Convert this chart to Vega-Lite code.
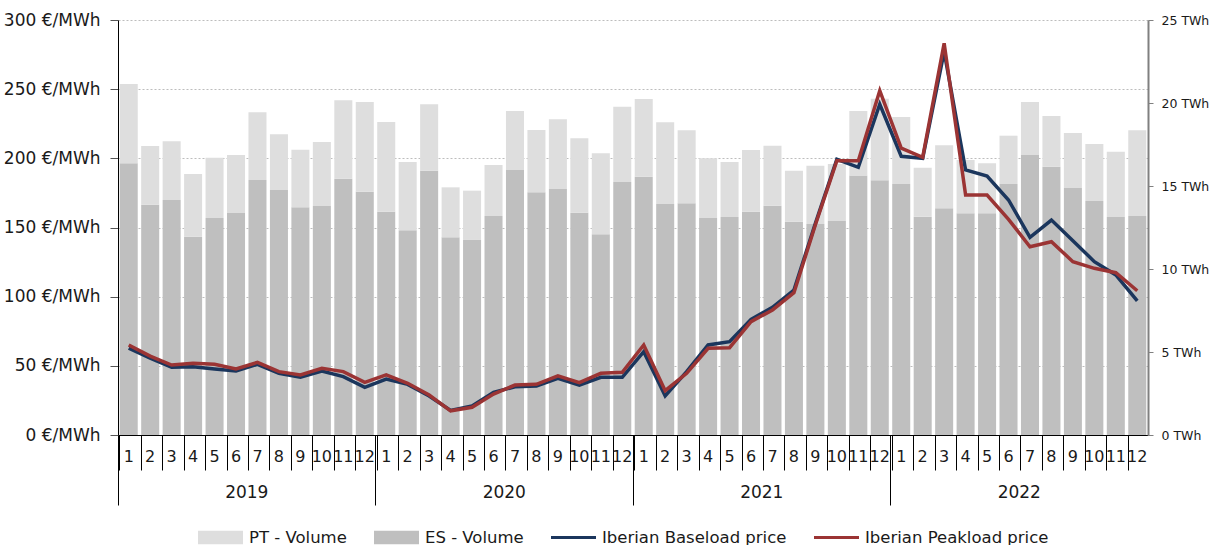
{
  "$schema": "https://vega.github.io/schema/vega-lite/v6.json",
  "width": 1030,
  "height": 415,
  "padding": {"left": 3, "top": 11, "right": 5, "bottom": 5},
  "config": {
    "view": {"stroke": null},
    "font": "DejaVu Sans"
  },
  "data": {
    "values": [
      {"t":"2019-01","s":"ES - Volume","v":16.37},{"t":"2019-01","s":"PT - Volume","v":4.77},{"t":"2019-01","s":"Iberian Baseload price","v":62.7},{"t":"2019-01","s":"Iberian Peakload price","v":65.1},
      {"t":"2019-02","s":"ES - Volume","v":13.87},{"t":"2019-02","s":"PT - Volume","v":3.54},{"t":"2019-02","s":"Iberian Baseload price","v":55.5},{"t":"2019-02","s":"Iberian Peakload price","v":57.0},
      {"t":"2019-03","s":"ES - Volume","v":14.16},{"t":"2019-03","s":"PT - Volume","v":3.53},{"t":"2019-03","s":"Iberian Baseload price","v":48.9},{"t":"2019-03","s":"Iberian Peakload price","v":50.6},
      {"t":"2019-04","s":"ES - Volume","v":11.95},{"t":"2019-04","s":"PT - Volume","v":3.77},{"t":"2019-04","s":"Iberian Baseload price","v":49.4},{"t":"2019-04","s":"Iberian Peakload price","v":51.8},
      {"t":"2019-05","s":"ES - Volume","v":13.07},{"t":"2019-05","s":"PT - Volume","v":3.63},{"t":"2019-05","s":"Iberian Baseload price","v":47.7},{"t":"2019-05","s":"Iberian Peakload price","v":51.1},
      {"t":"2019-06","s":"ES - Volume","v":13.37},{"t":"2019-06","s":"PT - Volume","v":3.50},{"t":"2019-06","s":"Iberian Baseload price","v":46.3},{"t":"2019-06","s":"Iberian Peakload price","v":47.7},
      {"t":"2019-07","s":"ES - Volume","v":15.36},{"t":"2019-07","s":"PT - Volume","v":4.08},{"t":"2019-07","s":"Iberian Baseload price","v":51.1},{"t":"2019-07","s":"Iberian Peakload price","v":52.5},
      {"t":"2019-08","s":"ES - Volume","v":14.76},{"t":"2019-08","s":"PT - Volume","v":3.35},{"t":"2019-08","s":"Iberian Baseload price","v":44.6},{"t":"2019-08","s":"Iberian Peakload price","v":45.8},
      {"t":"2019-09","s":"ES - Volume","v":13.72},{"t":"2019-09","s":"PT - Volume","v":3.47},{"t":"2019-09","s":"Iberian Baseload price","v":41.7},{"t":"2019-09","s":"Iberian Peakload price","v":43.4},
      {"t":"2019-10","s":"ES - Volume","v":13.80},{"t":"2019-10","s":"PT - Volume","v":3.85},{"t":"2019-10","s":"Iberian Baseload price","v":46.3},{"t":"2019-10","s":"Iberian Peakload price","v":48.2},
      {"t":"2019-11","s":"ES - Volume","v":15.44},{"t":"2019-11","s":"PT - Volume","v":4.72},{"t":"2019-11","s":"Iberian Baseload price","v":42.2},{"t":"2019-11","s":"Iberian Peakload price","v":45.8},
      {"t":"2019-12","s":"ES - Volume","v":14.66},{"t":"2019-12","s":"PT - Volume","v":5.40},{"t":"2019-12","s":"Iberian Baseload price","v":34.5},{"t":"2019-12","s":"Iberian Peakload price","v":38.1},
      {"t":"2020-01","s":"ES - Volume","v":13.45},{"t":"2020-01","s":"PT - Volume","v":5.41},{"t":"2020-01","s":"Iberian Baseload price","v":40.4},{"t":"2020-01","s":"Iberian Peakload price","v":43.4},
      {"t":"2020-02","s":"ES - Volume","v":12.33},{"t":"2020-02","s":"PT - Volume","v":4.12},{"t":"2020-02","s":"Iberian Baseload price","v":36.6},{"t":"2020-02","s":"Iberian Peakload price","v":37.4},
      {"t":"2020-03","s":"ES - Volume","v":15.92},{"t":"2020-03","s":"PT - Volume","v":4.00},{"t":"2020-03","s":"Iberian Baseload price","v":28.2},{"t":"2020-03","s":"Iberian Peakload price","v":28.9},
      {"t":"2020-04","s":"ES - Volume","v":11.91},{"t":"2020-04","s":"PT - Volume","v":3.01},{"t":"2020-04","s":"Iberian Baseload price","v":17.8},{"t":"2020-04","s":"Iberian Peakload price","v":17.5},
      {"t":"2020-05","s":"ES - Volume","v":11.75},{"t":"2020-05","s":"PT - Volume","v":2.97},{"t":"2020-05","s":"Iberian Baseload price","v":21.0},{"t":"2020-05","s":"Iberian Peakload price","v":20.0},
      {"t":"2020-06","s":"ES - Volume","v":13.19},{"t":"2020-06","s":"PT - Volume","v":3.08},{"t":"2020-06","s":"Iberian Baseload price","v":30.8},{"t":"2020-06","s":"Iberian Peakload price","v":29.6},
      {"t":"2020-07","s":"ES - Volume","v":15.96},{"t":"2020-07","s":"PT - Volume","v":3.56},{"t":"2020-07","s":"Iberian Baseload price","v":34.9},{"t":"2020-07","s":"Iberian Peakload price","v":36.1},
      {"t":"2020-08","s":"ES - Volume","v":14.62},{"t":"2020-08","s":"PT - Volume","v":3.75},{"t":"2020-08","s":"Iberian Baseload price","v":35.4},{"t":"2020-08","s":"Iberian Peakload price","v":36.6},
      {"t":"2020-09","s":"ES - Volume","v":14.82},{"t":"2020-09","s":"PT - Volume","v":4.20},{"t":"2020-09","s":"Iberian Baseload price","v":41.0},{"t":"2020-09","s":"Iberian Peakload price","v":42.7},
      {"t":"2020-10","s":"ES - Volume","v":13.39},{"t":"2020-10","s":"PT - Volume","v":4.48},{"t":"2020-10","s":"Iberian Baseload price","v":36.1},{"t":"2020-10","s":"Iberian Peakload price","v":37.8},
      {"t":"2020-11","s":"ES - Volume","v":12.09},{"t":"2020-11","s":"PT - Volume","v":4.88},{"t":"2020-11","s":"Iberian Baseload price","v":41.7},{"t":"2020-11","s":"Iberian Peakload price","v":44.6},
      {"t":"2020-12","s":"ES - Volume","v":15.24},{"t":"2020-12","s":"PT - Volume","v":4.54},{"t":"2020-12","s":"Iberian Baseload price","v":41.7},{"t":"2020-12","s":"Iberian Peakload price","v":45.3},
      {"t":"2021-01","s":"ES - Volume","v":15.56},{"t":"2021-01","s":"PT - Volume","v":4.68},{"t":"2021-01","s":"Iberian Baseload price","v":60.2},{"t":"2021-01","s":"Iberian Peakload price","v":65.1},
      {"t":"2021-02","s":"ES - Volume","v":13.92},{"t":"2021-02","s":"PT - Volume","v":4.92},{"t":"2021-02","s":"Iberian Baseload price","v":28.2},{"t":"2021-02","s":"Iberian Peakload price","v":32.0},
      {"t":"2021-03","s":"ES - Volume","v":13.96},{"t":"2021-03","s":"PT - Volume","v":4.40},{"t":"2021-03","s":"Iberian Baseload price","v":45.8},{"t":"2021-03","s":"Iberian Peakload price","v":44.6},
      {"t":"2021-04","s":"ES - Volume","v":13.07},{"t":"2021-04","s":"PT - Volume","v":3.60},{"t":"2021-04","s":"Iberian Baseload price","v":65.1},{"t":"2021-04","s":"Iberian Peakload price","v":62.7},
      {"t":"2021-05","s":"ES - Volume","v":13.13},{"t":"2021-05","s":"PT - Volume","v":3.32},{"t":"2021-05","s":"Iberian Baseload price","v":67.5},{"t":"2021-05","s":"Iberian Peakload price","v":63.1},
      {"t":"2021-06","s":"ES - Volume","v":13.45},{"t":"2021-06","s":"PT - Volume","v":3.72},{"t":"2021-06","s":"Iberian Baseload price","v":83.6},{"t":"2021-06","s":"Iberian Peakload price","v":81.9},
      {"t":"2021-07","s":"ES - Volume","v":13.81},{"t":"2021-07","s":"PT - Volume","v":3.62},{"t":"2021-07","s":"Iberian Baseload price","v":92.3},{"t":"2021-07","s":"Iberian Peakload price","v":90.4},
      {"t":"2021-08","s":"ES - Volume","v":12.85},{"t":"2021-08","s":"PT - Volume","v":3.07},{"t":"2021-08","s":"Iberian Baseload price","v":104.8},{"t":"2021-08","s":"Iberian Peakload price","v":102.9},
      {"t":"2021-09","s":"ES - Volume","v":12.71},{"t":"2021-09","s":"PT - Volume","v":3.51},{"t":"2021-09","s":"Iberian Baseload price","v":153.0},{"t":"2021-09","s":"Iberian Peakload price","v":152.0},
      {"t":"2021-10","s":"ES - Volume","v":12.89},{"t":"2021-10","s":"PT - Volume","v":3.44},{"t":"2021-10","s":"Iberian Baseload price","v":199.3},{"t":"2021-10","s":"Iberian Peakload price","v":198.3},
      {"t":"2021-11","s":"ES - Volume","v":15.64},{"t":"2021-11","s":"PT - Volume","v":3.88},{"t":"2021-11","s":"Iberian Baseload price","v":193.5},{"t":"2021-11","s":"Iberian Peakload price","v":198.3},
      {"t":"2021-12","s":"ES - Volume","v":15.34},{"t":"2021-12","s":"PT - Volume","v":4.92},{"t":"2021-12","s":"Iberian Baseload price","v":239.1},{"t":"2021-12","s":"Iberian Peakload price","v":248.9},
      {"t":"2022-01","s":"ES - Volume","v":15.12},{"t":"2022-01","s":"PT - Volume","v":4.04},{"t":"2022-01","s":"Iberian Baseload price","v":201.5},{"t":"2022-01","s":"Iberian Peakload price","v":207.3},
      {"t":"2022-02","s":"ES - Volume","v":13.15},{"t":"2022-02","s":"PT - Volume","v":2.95},{"t":"2022-02","s":"Iberian Baseload price","v":200.0},{"t":"2022-02","s":"Iberian Peakload price","v":200.7},
      {"t":"2022-03","s":"ES - Volume","v":13.66},{"t":"2022-03","s":"PT - Volume","v":3.79},{"t":"2022-03","s":"Iberian Baseload price","v":277.1},{"t":"2022-03","s":"Iberian Peakload price","v":283.2},
      {"t":"2022-04","s":"ES - Volume","v":13.36},{"t":"2022-04","s":"PT - Volume","v":3.21},{"t":"2022-04","s":"Iberian Baseload price","v":191.6},{"t":"2022-04","s":"Iberian Peakload price","v":173.5},
      {"t":"2022-05","s":"ES - Volume","v":13.36},{"t":"2022-05","s":"PT - Volume","v":3.01},{"t":"2022-05","s":"Iberian Baseload price","v":187.2},{"t":"2022-05","s":"Iberian Peakload price","v":173.5},
      {"t":"2022-06","s":"ES - Volume","v":15.12},{"t":"2022-06","s":"PT - Volume","v":2.91},{"t":"2022-06","s":"Iberian Baseload price","v":169.9},{"t":"2022-06","s":"Iberian Peakload price","v":155.9},
      {"t":"2022-07","s":"ES - Volume","v":16.87},{"t":"2022-07","s":"PT - Volume","v":3.19},{"t":"2022-07","s":"Iberian Baseload price","v":142.9},{"t":"2022-07","s":"Iberian Peakload price","v":136.1},
      {"t":"2022-08","s":"ES - Volume","v":16.16},{"t":"2022-08","s":"PT - Volume","v":3.06},{"t":"2022-08","s":"Iberian Baseload price","v":155.4},{"t":"2022-08","s":"Iberian Peakload price","v":139.7},
      {"t":"2022-09","s":"ES - Volume","v":14.88},{"t":"2022-09","s":"PT - Volume","v":3.31},{"t":"2022-09","s":"Iberian Baseload price","v":140.5},{"t":"2022-09","s":"Iberian Peakload price","v":125.3},
      {"t":"2022-10","s":"ES - Volume","v":14.10},{"t":"2022-10","s":"PT - Volume","v":3.43},{"t":"2022-10","s":"Iberian Baseload price","v":125.3},{"t":"2022-10","s":"Iberian Peakload price","v":120.5},
      {"t":"2022-11","s":"ES - Volume","v":13.13},{"t":"2022-11","s":"PT - Volume","v":3.94},{"t":"2022-11","s":"Iberian Baseload price","v":115.7},{"t":"2022-11","s":"Iberian Peakload price","v":117.3},
      {"t":"2022-12","s":"ES - Volume","v":13.19},{"t":"2022-12","s":"PT - Volume","v":5.17},{"t":"2022-12","s":"Iberian Baseload price","v":96.9},{"t":"2022-12","s":"Iberian Peakload price","v":104.3}
    ]
  },
  "layer": [
    {
      "encoding": {
        "x": {
          "field": "t", "type": "ordinal",
          "scale": {"paddingInner": 0.16, "paddingOuter": 0.08},
          "axis": {
            "orient": "bottom", "title": null, "tickSize": 35, "bandPosition": 0,
            "tickColor": "#000", "domainColor": "#000", "labelPadding": -22,
            "labelFontSize": 16, "labelColor": "#1a1a1a", "labelAngle": 0, "labelOverlap": false,
            "labelExpr": "toNumber(slice(datum.value, 5))"
          }
        },
        "color": {
          "field": "s", "type": "nominal",
          "scale": {"domain": ["PT - Volume", "ES - Volume", "Iberian Baseload price", "Iberian Peakload price"], "range": ["#dedede", "#bfbfbf", "#1b365d", "#9b3434"]},
          "legend": {
            "title": null, "orient": "none", "legendX": 80, "legendY": 495,
            "direction": "horizontal", "labelFontSize": 16.5, "labelColor": "#1a1a1a",
            "labelLimit": 400, "symbolSize": 2025, "labelOffset": 6, "columnPadding": 27,
            "encode": {
              "symbols": {
                "update": {
                  "shape": {"signal": "datum.value == 'PT - Volume' || datum.value == 'ES - Volume' ? 'M-1,-0.3H1V0.3H-1Z' : 'M-1,-0.07H1V0.07H-1Z'"},
                  "fill": {"scale": "color", "field": "value"},
                  "strokeWidth": {"value": 0},
                  "opacity": {"value": 1}
                }
              }
            }
          }
        }
      },
      "layer": [
        {
          "transform": [{"filter": {"field": "s", "oneOf": ["ES - Volume", "PT - Volume"]}}],
          "mark": {"type": "bar"},
          "encoding": {
            "y": {
              "field": "v", "type": "quantitative", "stack": "zero",
              "scale": {"domain": [0, 25]},
              "axis": {
                "orient": "right", "title": null, "values": [0, 5, 10, 15, 20, 25],
                "labelExpr": "datum.value + ' TWh'", "tickSize": 5, "labelPadding": 8,
                "labelFontSize": 12.5, "labelColor": "#1a1a1a", "domainColor": "#808080", "domainWidth": 2,
                "tickColor": "#808080", "grid": false
              }
            },
            "order": {"field": "s", "sort": "ascending"}
          }
        },
        {
          "transform": [{"filter": {"field": "s", "oneOf": ["Iberian Baseload price", "Iberian Peakload price"]}}],
          "mark": {"type": "line", "strokeWidth": 3.5},
          "encoding": {
            "y": {
              "field": "v", "type": "quantitative",
              "scale": {"domain": [0, 300]},
              "axis": {
                "orient": "left", "title": null, "values": [0, 50, 100, 150, 200, 250, 300],
                "labelExpr": "datum.value + ' €/MWh'", "tickSize": 8, "labelPadding": 10,
                "labelFontSize": 17, "labelColor": "#1a1a1a", "domainColor": "#000", "tickColor": "#555",
                "grid": true, "gridDash": [2, 2], "gridColor": "#bdbdbd", "gridWidth": 1
              }
            }
          }
        }
      ],
      "resolve": {"scale": {"y": "independent"}}
    },
    {
      "data": {"values": [{"yr": "2019"}, {"yr": "2020"}, {"yr": "2021"}, {"yr": "2022"}]},
      "mark": {"type": "point", "opacity": 0},
      "encoding": {
        "x": {
          "field": "yr", "type": "ordinal",
          "scale": {"type": "band", "paddingInner": 0, "paddingOuter": 0},
          "axis": {
            "orient": "bottom", "title": null, "bandPosition": 0, "tickSize": 70,
            "tickColor": "#000", "domain": false, "labelPadding": -21,
            "labelFontSize": 17, "labelColor": "#1a1a1a", "labelAngle": 0
          }
        }
      }
    }
  ],
  "resolve": {"scale": {"x": "independent", "y": "independent"}}
}
